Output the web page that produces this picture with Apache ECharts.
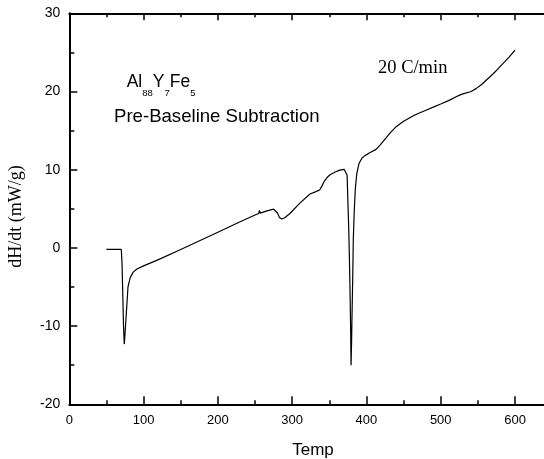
<!DOCTYPE html>
<html>
<head>
<meta charset="utf-8">
<script src="https://cdn.jsdelivr.net/npm/echarts@6/dist/echarts.min.js"></script>
<style>
html,body{margin:0;padding:0;background:#fff;}
#chart{width:544px;height:459px;}
</style>
</head>
<body>
<div id="chart"></div>
<script>
// Temperature (x) values
const temps = [50, 60, 70, 71, 72, 73, 74, 75, 77, 79, 82, 86, 91, 100, 120, 150, 200, 230, 250, 255, 256, 257, 265, 275, 280, 283, 286, 290, 297, 310, 324, 332, 337, 340, 343, 347, 351, 358, 364, 370, 372.5, 374, 375, 376, 377, 378, 378.8, 379.3, 380, 380.7, 381.5, 382.3, 383.5, 385, 387, 390, 394, 398, 405, 413, 418, 425, 432, 440, 450, 465, 480, 490, 500, 512, 520, 527, 529, 530, 541, 548, 555, 563, 571, 578, 584, 592, 600];
// dH/dt values (mW/g)
const heatFlow = [-0.2, -0.2, -0.2, -2, -6, -10, -12.3, -11, -8, -5, -3.8, -3.1, -2.7, -2.3, -1.5, -0.2, 2.0, 3.35, 4.2, 4.4, 4.8, 4.45, 4.7, 4.95, 4.5, 3.9, 3.7, 3.85, 4.4, 5.7, 6.9, 7.2, 7.4, 7.9, 8.5, 9.0, 9.35, 9.7, 9.95, 10.05, 9.9, 9.3, 6, 3, -1, -6, -11, -15, -12, -8, -4, 1, 4.5, 7.5, 9.5, 10.8, 11.5, 11.8, 12.2, 12.6, 13.1, 13.9, 14.7, 15.5, 16.2, 17.0, 17.6, 18.0, 18.4, 18.9, 19.3, 19.6, 19.8, 19.7, 20.0, 20.4, 20.9, 21.6, 22.3, 23.0, 23.6, 24.4, 25.3];
const xTicks = {min: 0, max: 700, interval: 100};
const yTicks = {min: -20, max: 30, interval: 10};

const chart = echarts.init(document.getElementById('chart'), null, {renderer: 'canvas'});
const data = temps.map((t, i) => [t, heatFlow[i]]);
const axisLineStyle = {color: '#000', width: 2};
const tickStyle = {color: '#000', width: 1.5};

chart.setOption({
  animation: false,
  backgroundColor: '#fff',
  grid: {left: 69.3, top: 13.3, width: 520, height: 391, containLabel: false, outerBoundsMode: 'none'},
  xAxis: [
    {type: 'value', min: xTicks.min, max: xTicks.max, interval: xTicks.interval, position: 'bottom',
     axisLine: {show: true, onZero: false, lineStyle: axisLineStyle},
     axisTick: {show: true, inside: true, length: 8, lineStyle: tickStyle},
     minorTick: {show: true, splitNumber: 2, length: 4, lineStyle: tickStyle},
     splitLine: {show: false},
     axisLabel: {color: '#000', fontSize: 13, fontFamily: 'Liberation Sans', margin: 10}},
    {type: 'value', min: xTicks.min, max: xTicks.max, interval: xTicks.interval, position: 'top',
     axisLine: {show: true, onZero: false, lineStyle: axisLineStyle},
     axisTick: {show: true, inside: true, length: 7, lineStyle: tickStyle},
     minorTick: {show: true, splitNumber: 2, length: 4, lineStyle: tickStyle},
     splitLine: {show: false},
     axisLabel: {show: false}}
  ],
  yAxis: [
    {type: 'value', min: yTicks.min, max: yTicks.max, interval: yTicks.interval, position: 'left',
     axisLine: {show: true, onZero: false, lineStyle: axisLineStyle},
     axisTick: {show: true, inside: true, length: 8, lineStyle: tickStyle},
     minorTick: {show: true, splitNumber: 2, length: 5, lineStyle: tickStyle},
     splitLine: {show: false},
     axisLabel: {color: '#000', fontSize: 14, fontFamily: 'Liberation Sans', margin: 9}}
  ],
  series: [{
    type: 'line', xAxisIndex: 0, yAxisIndex: 0, data: data,
    showSymbol: false, symbol: 'none', smooth: false,
    lineStyle: {color: '#000', width: 1.2}
  }],
  graphic: [
    {type: 'text', x: 313, y: 450, style: {text: 'Temp', fontSize: 17, fontFamily: 'Liberation Sans', fill: '#000', align: 'center', verticalAlign: 'middle'}},
    {type: 'text', x: 16.5, y: 216.5, rotation: Math.PI / 2, style: {text: 'dH/dt (mW/g)', fontSize: 18, fontFamily: 'Liberation Serif', fill: '#000', align: 'center', verticalAlign: 'middle'}},
    {type: 'text', x: 378, y: 67.8, style: {text: '20 C/min', fontSize: 18.5, fontFamily: 'Liberation Serif', fill: '#000', align: 'left', verticalAlign: 'middle'}},
    {type: 'text', x: 114, y: 116.9, style: {text: 'Pre-Baseline Subtraction', fontSize: 18.6, fontFamily: 'Liberation Sans', fill: '#000', align: 'left', verticalAlign: 'middle'}},
    {type: 'text', x: 126.7, y: 98.3, style: {
      text: '{m|Al}{s|88}{m|Y}{s|7}{m|Fe}{s|5}',
      fontFamily: 'Liberation Sans', fill: '#000', align: 'left', verticalAlign: 'bottom',
      rich: {
        m: {fontSize: 17.5, fontFamily: 'Liberation Sans', fill: '#000', verticalAlign: 'bottom', padding: [0, 0, 7, 0]},
        s: {fontSize: 9.5, fontFamily: 'Liberation Sans', fill: '#000', verticalAlign: 'bottom'}
      }
    }}
  ]
});
</script>
</body>
</html>
